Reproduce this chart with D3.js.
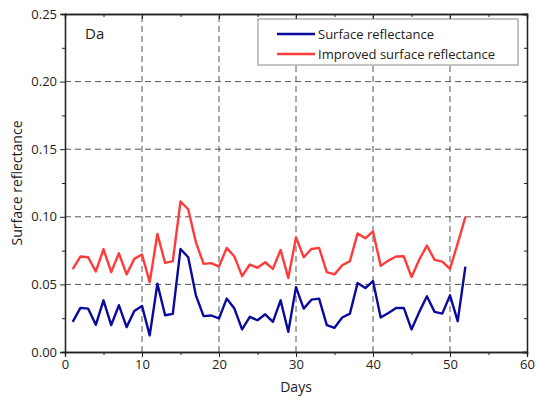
<!DOCTYPE html>
<html>
<head>
<meta charset="utf-8">
<script src="https://cdn.jsdelivr.net/npm/d3@7"></script>
<style>
  body { margin: 0; background: #fff; }
  text { font-family: "Open Sans", sans-serif; fill: #222; }
</style>
</head>
<body>
<div id="chart"></div>
<script>
// days 1..52
var days = d3.range(1, 53);
var surface = [0.0223, 0.0326, 0.0321, 0.0201, 0.0382, 0.0199, 0.0346, 0.0184, 0.0304, 0.0341,
               0.0123, 0.0505, 0.0272, 0.0282, 0.0762, 0.0701, 0.0419, 0.0265, 0.0270, 0.0248,
               0.0395, 0.0321, 0.0167, 0.0260, 0.0235, 0.0279, 0.0223, 0.0382, 0.0150, 0.0480,
               0.0321, 0.0387, 0.0395, 0.0199, 0.0179, 0.0255, 0.0284, 0.0510, 0.0473, 0.0525,
               0.0255, 0.0289, 0.0326, 0.0326, 0.0167, 0.0295, 0.0412, 0.0297, 0.0284, 0.0419,
               0.0228, 0.0632];
var improved = [0.0613, 0.0706, 0.0701, 0.0596, 0.0760, 0.0591, 0.0730, 0.0574, 0.0689, 0.0721,
                0.0517, 0.0873, 0.0659, 0.0672, 0.1113, 0.1056, 0.0811, 0.0652, 0.0657, 0.0632,
                0.0770, 0.0706, 0.0561, 0.0647, 0.0623, 0.0664, 0.0615, 0.0755, 0.0547, 0.0848,
                0.0701, 0.0762, 0.0770, 0.0591, 0.0574, 0.0642, 0.0672, 0.0877, 0.0841, 0.0892,
                0.0637, 0.0676, 0.0706, 0.0708, 0.0554, 0.0682, 0.0787, 0.0681, 0.0669, 0.0615,
                0.0804, 0.1000];
var xTicks = [0, 10, 20, 30, 40, 50, 60];
var yTicks = [0, 0.05, 0.10, 0.15, 0.20, 0.25];
var seriesNames = ["Surface reflectance", "Improved surface reflectance"];
var seriesColors = ["#0a0a9e", "#ff3b3b"];

var width = 537, height = 409;
var margin = {top: 14, right: 10, bottom: 57, left: 65};

var svg = d3.select('#chart').append('svg')
  .attr('width', width)
  .attr('height', height);

var x = d3.scaleLinear().domain([0, 60]).range([margin.left, width - margin.right]);
var y = d3.scaleLinear().domain([0, 0.25]).range([height - margin.bottom, margin.top]);

var x0 = x.range()[0], x1 = x.range()[1];
var y0 = y.range()[0], y1 = y.range()[1];

// dashed grid
svg.append('g').selectAll('line')
  .data(xTicks.slice(1, -1))
  .enter().append('line')
  .attr('x1', function (d) { return x(d); })
  .attr('x2', function (d) { return x(d); })
  .attr('y1', y0).attr('y2', y1)
  .attr('stroke', '#555').attr('stroke-dasharray', '6,4');
svg.append('g').selectAll('line')
  .data(yTicks.slice(1, -1))
  .enter().append('line')
  .attr('y1', function (d) { return y(d); })
  .attr('y2', function (d) { return y(d); })
  .attr('x1', x0).attr('x2', x1)
  .attr('stroke', '#555').attr('stroke-dasharray', '6,4');

// lines
var line = d3.line()
  .x(function (d) { return x(d[0]); })
  .y(function (d) { return y(d[1]); });

[surface, improved].forEach(function (s, i) {
  svg.append('path')
    .datum(days.map(function (d, j) { return [d, s[j]]; }))
    .attr('d', line)
    .attr('fill', 'none')
    .attr('stroke', seriesColors[i])
    .attr('stroke-width', 2.4)
    .attr('stroke-linejoin', 'round');
});

// axes (bottom / left with labels, top / right mirror)
var xMinor = d3.range(5, 60, 10);
var yMinor = d3.range(0.025, 0.25, 0.05);

var bottom = svg.append('g').attr('transform', 'translate(0,' + y0 + ')')
  .call(d3.axisBottom(x).tickValues(xTicks).tickSize(5).tickPadding(3).tickFormat(d3.format('d')));
svg.append('g').attr('transform', 'translate(0,' + y0 + ')')
  .call(d3.axisBottom(x).tickValues(xMinor).tickSize(3).tickFormat(''));
var left = svg.append('g').attr('transform', 'translate(' + x0 + ',0)')
  .call(d3.axisLeft(y).tickValues(yTicks).tickSize(5).tickPadding(3).tickFormat(d3.format('.2f')));
svg.append('g').attr('transform', 'translate(' + x0 + ',0)')
  .call(d3.axisLeft(y).tickValues(yMinor).tickSize(3).tickFormat(''));
svg.append('g').attr('transform', 'translate(0,' + y1 + ')')
  .call(d3.axisBottom(x).tickValues(xTicks).tickSize(5).tickFormat(''));
svg.append('g').attr('transform', 'translate(0,' + y1 + ')')
  .call(d3.axisBottom(x).tickValues(xMinor).tickSize(3).tickFormat(''));
svg.append('g').attr('transform', 'translate(' + x1 + ',0)')
  .call(d3.axisLeft(y).tickValues(yTicks).tickSize(5).tickFormat(''));
svg.append('g').attr('transform', 'translate(' + x1 + ',0)')
  .call(d3.axisLeft(y).tickValues(yMinor).tickSize(3).tickFormat(''));

svg.selectAll('.domain').attr('stroke', '#222').attr('stroke-width', 1.3);
svg.selectAll('.tick line').attr('stroke', '#222');
svg.selectAll('.tick text').style('font-size', '13px').attr('fill', '#222');

// axis titles
svg.append('text')
  .attr('x', (x0 + x1) / 2).attr('y', 392)
  .attr('text-anchor', 'middle')
  .style('font-size', '14px')
  .text('Days');
svg.append('text')
  .attr('transform', 'translate(22,' + ((y0 + y1) / 2) + ') rotate(-90)')
  .attr('text-anchor', 'middle')
  .style('font-size', '14px')
  .text('Surface reflectance');

// panel label
svg.append('text')
  .attr('x', 85).attr('y', 39)
  .style('font-size', '15px')
  .text('Da');

// legend
var lg = svg.append('g').attr('transform', 'translate(258,19)');
lg.append('rect')
  .attr('width', 260).attr('height', 46)
  .attr('fill', '#fff').attr('stroke', '#888');
var item = lg.selectAll('.item')
  .data(seriesNames)
  .enter().append('g')
  .attr('transform', function (d, i) { return 'translate(0,' + (15 + i * 20) + ')'; });
item.append('line')
  .attr('x1', 19).attr('x2', 57)
  .attr('stroke', function (d, i) { return seriesColors[i]; })
  .attr('stroke-width', 2.4);
item.append('text')
  .attr('x', 60).attr('y', 5)
  .style('font-size', '13px')
  .text(function (d) { return d; });
</script>
</body>
</html>
